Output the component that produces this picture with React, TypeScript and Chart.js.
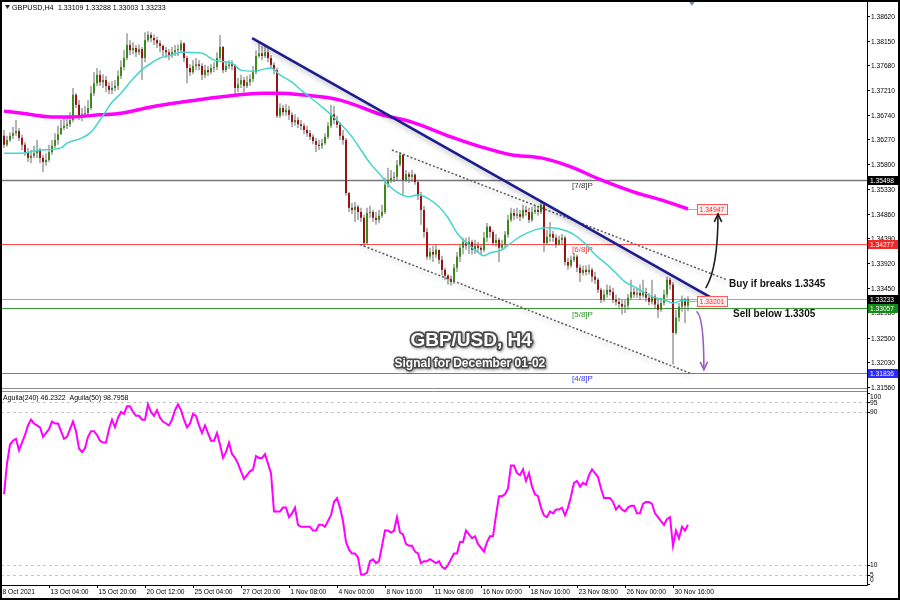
import React, { useEffect, useRef } from "react";
import { Chart, registerables } from "chart.js";

Chart.register(...registerables);

// ---------------- DATA (GBPUSD H4, bar index 0..228) ----------------
const opens = [
  1.3634,1.3617,1.3626,1.3634,1.3639,1.3643,1.3630,1.3617,1.3603,1.3592,1.3596,1.3601,1.3607,1.3592,1.3584,1.3588,1.3603,1.3615,1.3626,1.3637,
  1.3649,1.3653,1.3656,1.3664,1.3712,1.3693,1.3670,1.3675,1.3677,1.3687,1.3715,1.3734,1.3750,1.3736,1.3740,1.3729,1.3721,1.3725,1.3729,1.3748,
  1.3765,1.3782,1.3807,1.3797,1.3801,1.3793,1.3799,1.3782,1.3816,1.3826,1.3820,1.3816,1.3810,1.3805,1.3797,1.3793,1.3788,1.3793,1.3797,1.3797,
  1.3810,1.3782,1.3763,1.3755,1.3767,1.3770,1.3767,1.3750,1.3759,1.3755,1.3763,1.3765,1.3782,1.3803,1.3759,1.3767,1.3770,1.3767,1.3725,1.3732,
  1.3740,1.3729,1.3736,1.3742,1.3755,1.3786,1.3791,1.3786,1.3793,1.3782,1.3769,1.3759,1.3672,1.3687,1.3679,1.3683,1.3674,1.3660,1.3664,1.3656,
  1.3653,1.3645,1.3639,1.3632,1.3624,1.3617,1.3615,1.3620,1.3632,1.3653,1.3675,1.3664,1.3655,1.3634,1.3626,1.3525,1.3497,1.3493,1.3499,1.3489,
  1.3478,1.3430,1.3487,1.3489,1.3478,1.3474,1.3482,1.3489,1.3541,1.3550,1.3554,1.3556,1.3579,1.3598,1.3550,1.3561,1.3556,1.3560,1.3546,1.3520,
  1.3493,1.3451,1.3404,1.3413,1.3408,1.3417,1.3398,1.3379,1.3368,1.3362,1.3356,1.3383,1.3404,1.3421,1.3432,1.3425,1.3432,1.3417,1.3425,1.3421,
  1.3417,1.3440,1.3461,1.3451,1.3430,1.3436,1.3421,1.3427,1.3446,1.3474,1.3487,1.3482,1.3485,1.3480,1.3493,1.3489,1.3474,1.3489,1.3493,1.3489,
  1.3503,1.3430,1.3442,1.3447,1.3440,1.3427,1.3436,1.3440,1.3394,1.3387,1.3398,1.3404,1.3383,1.3373,1.3379,1.3375,1.3379,1.3366,1.3360,1.3341,
  1.3322,1.3332,1.3341,1.3337,1.3322,1.3318,1.3314,1.3309,1.3311,1.3326,1.3337,1.3332,1.3335,1.3330,1.3337,1.3326,1.3318,1.3328,1.3313,1.3303,
  1.3316,1.3332,1.3360,1.3351,1.3259,1.3288,1.3309,1.3322,1.33109,
];
const highs = [
  1.3645,1.3634,1.3641,1.3651,1.3664,1.3649,1.3636,1.3622,1.3611,1.3607,1.3615,1.3626,1.3611,1.3598,1.3601,1.3617,1.3626,1.3639,1.3653,1.3664,
  1.3668,1.3672,1.3679,1.3725,1.3715,1.3702,1.3687,1.3691,1.3702,1.3729,1.3755,1.3763,1.3759,1.3751,1.3748,1.3736,1.3738,1.3740,1.3759,1.3778,
  1.3797,1.3829,1.3816,1.3812,1.3807,1.3808,1.3803,1.3831,1.3833,1.3831,1.3827,1.3822,1.3816,1.3808,1.3803,1.3799,1.3803,1.3807,1.3808,1.3816,
  1.3812,1.3786,1.3770,1.3778,1.3782,1.3778,1.3772,1.3769,1.3767,1.3770,1.3774,1.3793,1.3826,1.3805,1.3774,1.3778,1.3778,1.3770,1.3744,1.3750,
  1.3746,1.3748,1.3751,1.3767,1.3797,1.3812,1.3805,1.3808,1.3801,1.3788,1.3774,1.3763,1.3696,1.3693,1.3694,1.3691,1.3679,1.3675,1.3670,1.3664,
  1.3658,1.3653,1.3645,1.3637,1.3630,1.3626,1.3628,1.3639,1.3660,1.3693,1.3691,1.3672,1.3660,1.3645,1.3630,1.3527,1.3506,1.3508,1.3503,1.3497,
  1.3484,1.3497,1.3501,1.3493,1.3489,1.3493,1.3503,1.3554,1.3573,1.3569,1.3565,1.3588,1.3603,1.3598,1.3569,1.3565,1.3569,1.3563,1.3550,1.3527,
  1.3501,1.3459,1.3421,1.3425,1.3427,1.3417,1.3406,1.3383,1.3371,1.3368,1.3390,1.3413,1.3428,1.3440,1.3440,1.3442,1.3436,1.3436,1.3432,1.3427,
  1.3451,1.3468,1.3463,1.3455,1.3447,1.3440,1.3436,1.3453,1.3484,1.3497,1.3495,1.3497,1.3493,1.3503,1.3501,1.3497,1.3499,1.3503,1.3501,1.3512,
  1.3504,1.3455,1.3470,1.3453,1.3446,1.3444,1.3447,1.3444,1.3402,1.3406,1.3411,1.3408,1.3389,1.3387,1.3387,1.3389,1.3383,1.3375,1.3364,1.3345,
  1.3341,1.3351,1.3349,1.3345,1.3332,1.3326,1.3322,1.3322,1.3333,1.3360,1.3345,1.3345,1.3351,1.3360,1.3345,1.3335,1.3360,1.3333,1.3322,1.3326,
  1.3341,1.3366,1.3364,1.3356,1.3303,1.3316,1.3330,1.3326,1.33288,
];
const lows = [
  1.3611,1.3613,1.3622,1.3628,1.3634,1.3624,1.3607,1.3596,1.3584,1.3582,1.3592,1.3592,1.3582,1.3565,1.3577,1.3584,1.3598,1.3611,1.3617,1.3636,
  1.3645,1.3647,1.3651,1.3660,1.3687,1.3664,1.3662,1.3668,1.3672,1.3683,1.3710,1.3729,1.3729,1.3725,1.3717,1.3713,1.3713,1.3719,1.3721,1.3742,
  1.3759,1.3778,1.3788,1.3789,1.3784,1.3788,1.3740,1.3774,1.3812,1.3812,1.3807,1.3801,1.3793,1.3786,1.3782,1.3778,1.3782,1.3786,1.3786,1.3793,
  1.3774,1.3734,1.3748,1.3751,1.3759,1.3759,1.3740,1.3744,1.3748,1.3751,1.3755,1.3759,1.3778,1.3753,1.3755,1.3761,1.3759,1.3708,1.3717,1.3725,
  1.3717,1.3725,1.3729,1.3736,1.3751,1.3782,1.3778,1.3782,1.3774,1.3763,1.3751,1.3668,1.3668,1.3672,1.3672,1.3664,1.3651,1.3653,1.3649,1.3645,
  1.3637,1.3632,1.3626,1.3618,1.3603,1.3607,1.3609,1.3617,1.3628,1.3649,1.3656,1.3649,1.3626,1.3617,1.3520,1.3489,1.3485,1.3470,1.3474,1.3470,
  1.3423,1.3427,1.3478,1.3470,1.3465,1.3468,1.3478,1.3485,1.3535,1.3544,1.3546,1.3550,1.3575,1.3522,1.3546,1.3544,1.3546,1.3541,1.3512,1.3465,
  1.3440,1.3398,1.3398,1.3394,1.3402,1.3390,1.3368,1.3360,1.3351,1.3349,1.3352,1.3375,1.3394,1.3408,1.3417,1.3409,1.3408,1.3409,1.3411,1.3408,
  1.3413,1.3432,1.3440,1.3425,1.3423,1.3394,1.3417,1.3421,1.3440,1.3470,1.3474,1.3476,1.3472,1.3476,1.3482,1.3468,1.3470,1.3485,1.3482,1.3485,
  1.3413,1.3427,1.3432,1.3432,1.3421,1.3425,1.3428,1.3387,1.3379,1.3383,1.3394,1.3375,1.3356,1.3368,1.3368,1.3370,1.3356,1.3352,1.3335,1.3316,
  1.3318,1.3326,1.3330,1.3316,1.3311,1.3307,1.3294,1.3297,1.3303,1.3322,1.3326,1.3326,1.3322,1.3326,1.3318,1.3311,1.3313,1.3305,1.3288,1.3299,
  1.3311,1.3326,1.3341,1.3199,1.3256,1.3280,1.3299,1.3278,1.33003,
];
const closes = [
  1.3617,1.3626,1.3634,1.3639,1.3643,1.3630,1.3617,1.3603,1.3592,1.3596,1.3601,1.3607,1.3592,1.3584,1.3588,1.3603,1.3615,1.3626,1.3637,1.3649,
  1.3653,1.3656,1.3664,1.3712,1.3693,1.3670,1.3675,1.3677,1.3687,1.3715,1.3734,1.3750,1.3736,1.3740,1.3729,1.3721,1.3725,1.3729,1.3748,1.3765,
  1.3782,1.3807,1.3797,1.3801,1.3793,1.3799,1.3782,1.3816,1.3826,1.3820,1.3816,1.3810,1.3805,1.3797,1.3793,1.3788,1.3793,1.3797,1.3797,1.3810,
  1.3782,1.3763,1.3755,1.3767,1.3770,1.3767,1.3750,1.3759,1.3755,1.3763,1.3765,1.3782,1.3803,1.3759,1.3767,1.3770,1.3767,1.3725,1.3732,1.3740,
  1.3729,1.3736,1.3742,1.3755,1.3786,1.3791,1.3786,1.3793,1.3782,1.3769,1.3759,1.3672,1.3687,1.3679,1.3683,1.3674,1.3660,1.3664,1.3656,1.3653,
  1.3645,1.3639,1.3632,1.3624,1.3617,1.3615,1.3620,1.3632,1.3653,1.3675,1.3664,1.3655,1.3634,1.3626,1.3525,1.3497,1.3493,1.3499,1.3489,1.3478,
  1.3430,1.3487,1.3489,1.3478,1.3474,1.3482,1.3489,1.3541,1.3550,1.3554,1.3556,1.3579,1.3598,1.3550,1.3561,1.3556,1.3560,1.3546,1.3520,1.3493,
  1.3451,1.3404,1.3413,1.3408,1.3417,1.3398,1.3379,1.3368,1.3362,1.3356,1.3383,1.3404,1.3421,1.3432,1.3425,1.3432,1.3417,1.3425,1.3421,1.3417,
  1.3440,1.3461,1.3451,1.3430,1.3436,1.3421,1.3427,1.3446,1.3474,1.3487,1.3482,1.3485,1.3480,1.3493,1.3489,1.3474,1.3489,1.3493,1.3489,1.3503,
  1.3430,1.3442,1.3447,1.3440,1.3427,1.3436,1.3440,1.3394,1.3387,1.3398,1.3404,1.3383,1.3373,1.3379,1.3375,1.3379,1.3366,1.3360,1.3341,1.3322,
  1.3332,1.3341,1.3337,1.3322,1.3318,1.3314,1.3309,1.3311,1.3326,1.3337,1.3332,1.3335,1.3330,1.3337,1.3326,1.3318,1.3328,1.3313,1.3303,1.3316,
  1.3332,1.3360,1.3351,1.3259,1.3288,1.3309,1.3322,1.33109,1.33233,
];

// Fast moving average (turquoise), read at selected bars
const fastMaIdx = [0,6,12,19,21,26,29,32,36,39,42,46,49,52,56,59,66,70,76,79,83,89,92,96,99,106,112,116,119,122,126,128,131,135,138,141,145,148,151,153,157,160,162,166,169,172,177,181,185,190,194,197,201,204,207,210,213,216,220,223,226,228];
const fastMaVal = [1.3601,1.3601,1.3607,1.3611,1.3620,1.3630,1.3641,1.3664,1.3698,1.3715,1.3736,1.3760,1.3772,1.3782,1.3788,1.3793,1.3791,1.3778,1.3772,1.3759,1.3757,1.3763,1.3750,1.3736,1.3721,1.3689,1.3658,1.3632,1.3607,1.3582,1.3556,1.3541,1.3527,1.3518,1.3522,1.3516,1.3499,1.3478,1.3449,1.3436,1.3417,1.3406,1.3411,1.3417,1.3430,1.3442,1.3455,1.3459,1.3457,1.3446,1.3427,1.3408,1.3389,1.3373,1.3356,1.3347,1.3337,1.3328,1.3322,1.3316,1.3320,1.33201];
// Slow moving average (magenta)
const slowMaIdx = [0,6,16,22,32,39,49,59,72,86,92,99,112,126,136,149,159,169,179,189,199,210,219,228];
const slowMaVal = [1.3681,1.3677,1.3670,1.3670,1.3674,1.3677,1.3689,1.3698,1.3708,1.3715,1.3715,1.3712,1.3702,1.3674,1.3660,1.3632,1.3613,1.3598,1.3592,1.3575,1.3550,1.3527,1.3512,1.34947];

// Aguila(50) oscillator values per bar
const aguila = [
  47,63,73,75,76,70,74,78,83,86,84,83,82,77,79,81,85,84,84,80,
  76,77,81,85,80,71,69,71,77,80,80,78,75,74,74,81,86,82,87,90,
  89,93,93,90,88,88,86,86,94,90,88,91,87,85,84,83,86,91,94,91,
  86,82,84,89,88,83,79,83,79,75,75,79,73,66,69,74,68,66,63,59,
  55,57,59,60,67,66,66,68,63,58,38,38,38,40,40,35,37,40,31,30,
  30,30,30,28,28,31,31,30,33,36,43,45,40,33,22,18,16,16,14,5,
  5,6,12,13,11,12,20,28,28,27,28,35,27,26,21,20,20,17,16,11,
  12,12,13,12,11,12,9,8,10,13,16,16,22,22,28,26,24,25,21,19,
  17,22,25,25,36,46,46,47,50,62,62,58,57,60,54,58,51,47,46,40,
  36,35,38,37,39,39,40,36,40,46,53,54,51,53,52,57,60,58,56,50,
  45,45,45,43,39,41,39,38,40,41,41,37,37,42,43,43,42,37,35,33,
  31,34,35,20,28,24,30,28,31,
];

// Trend line and channel (bar index, price)
const trendX = [82.7, 236.3];
const trendY = [1.3820, 1.3324];
const chanUpX = [129.3, 241];
const chanUpY = [1.3607, 1.3360];
const chanLoX = [118.7, 229.3];
const chanLoY = [1.3427, 1.3181];

// Horizontal levels
const levelValues = [1.35498, 1.34277, 1.33233, 1.33057, 1.31836];
const murreyLabels = ["[7/8]P", "[6/8]P", "[5/8]P", "[4/8]P"];
const murreyValues = [1.35498, 1.34277, 1.33057, 1.31836];

// Axes
const priceTicks = [1.38620,1.38150,1.37680,1.37210,1.36740,1.36270,1.35800,1.35330,1.34860,1.34390,1.33920,1.33450,1.32980,1.32500,1.32030,1.31560];
const timeTickIdx = [-1,15,31,47,63,79,95,111,127,143,159,175,191,207,223];
const timeLabels = ["8 Oct 2021","13 Oct 04:00","15 Oct 20:00","20 Oct 12:00","25 Oct 04:00","27 Oct 20:00","1 Nov 08:00","4 Nov 00:00","8 Nov 16:00","11 Nov 08:00","16 Nov 00:00","18 Nov 16:00","23 Nov 08:00","26 Nov 00:00","30 Nov 16:00"];
const aguilaTicks = [100, 95, 90, 10, 5, 0];
const aguilaLevels = [95, 90, 10, 5];

// Annotation texts and anchors (bar index, price)
const symbolText = "GBPUSD,H4";
const indicatorText = "Aguila(240) 46.2322  Aguila(50) 98.7958";
const titleText = "GBP/USD, H4";
const subtitleText = "Signal for December 01-02";
const buyText = "Buy if breaks 1.3345";
const sellText = "Sell below 1.3305";
const titleAt = [155.7, 1.3244];
const subtitleAt = [155.3, 1.3200];
const buyAt = [241.7, 1.3351];
const sellAt = [243, 1.3294];
const buyArrow = [[234, 1.3345], [238, 1.3383], [238, 1.3485]];
const sellArrow = [[231, 1.3299], [233.3, 1.3288], [233.3, 1.3189]];
const murreyLabelIdx = 196.3;
const maBoxIdx = 231;
const shiftMarkIdx = 229.3;

// ---------------- STYLE ----------------
const SANS = "'Liberation Sans', Arial, sans-serif";
const UP = "#3d8a1c";
const DOWN = "#981414";
const WICK = "#6a6a6a";
const levelLineColors = ["#787878", "#ff4a4a", "#9aa6ba", "#3a9a3a", "#6c6cff"];
const levelBoxColors = ["#000000", "#f02828", "#000000", "#168a16", "#2a2aff"];
const murreyColors = ["#333333", "#ff3030", "#2a962a", "#3030ff"];
const X_MIN = -1;
const X_MAX = 287.67;

function drawText(ctx: any, s: string, x: number, y: number, o: any) {
  ctx.save();
  ctx.font = o.font;
  ctx.fillStyle = o.color || "#000";
  ctx.textAlign = o.align || "left";
  ctx.textBaseline = o.baseline || "middle";
  ctx.translate(x, y);
  ctx.scale(o.sx || 1, 1);
  ctx.fillText(s, 0, 0);
  ctx.restore();
}

function drawArrow(ctx: any, pts: number[][], xs: any, ys: any, color: string) {
  const p = pts.map((q) => [xs.getPixelForValue(q[0]), ys.getPixelForValue(q[1])]);
  ctx.save();
  ctx.strokeStyle = color;
  ctx.lineWidth = 1.6;
  ctx.lineCap = "round";
  ctx.beginPath();
  ctx.moveTo(p[0][0], p[0][1]);
  ctx.quadraticCurveTo(p[1][0], p[1][1], p[2][0], p[2][1]);
  ctx.stroke();
  const ang = Math.atan2(p[2][1] - p[1][1], p[2][0] - p[1][0]);
  const L = 8;
  ctx.beginPath();
  ctx.moveTo(p[2][0] - L * Math.cos(ang - 0.45), p[2][1] - L * Math.sin(ang - 0.45));
  ctx.lineTo(p[2][0], p[2][1]);
  ctx.lineTo(p[2][0] - L * Math.cos(ang + 0.45), p[2][1] - L * Math.sin(ang + 0.45));
  ctx.stroke();
  ctx.restore();
}

function outlinedText(ctx: any, s: string, x: number, y: number, size: number, lw: number) {
  ctx.save();
  ctx.font = `bold ${size}px ${SANS}`;
  ctx.textAlign = "center";
  ctx.textBaseline = "middle";
  ctx.lineJoin = "round";
  ctx.shadowColor = "rgba(0,0,0,0.45)";
  ctx.shadowBlur = 3;
  ctx.shadowOffsetX = 1;
  ctx.shadowOffsetY = 1;
  ctx.strokeStyle = "#4a4a4a";
  ctx.lineWidth = lw;
  ctx.strokeText(s, x, y);
  ctx.shadowColor = "transparent";
  ctx.fillStyle = "#ffffff";
  ctx.fillText(s, x, y);
  ctx.restore();
}

const mainPlugin = {
  id: "mainDecor",
  beforeDatasetsDraw(chart: any) {
    const { ctx, chartArea: a } = chart;
    const xs = chart.scales.x, ys = chart.scales.y;
    ctx.save();
    levelValues.forEach((v, k) => {
      const y = Math.round(ys.getPixelForValue(v)) + 0.5;
      ctx.strokeStyle = levelLineColors[k];
      ctx.lineWidth = k === 0 ? 1.3 : 1.1;
      ctx.beginPath();
      ctx.moveTo(a.left, y);
      ctx.lineTo(a.right, y);
      ctx.stroke();
    });
    murreyValues.forEach((v, k) => {
      drawText(ctx, murreyLabels[k], xs.getPixelForValue(murreyLabelIdx), ys.getPixelForValue(v) + 2, {
        font: `8px ${SANS}`, color: murreyColors[k], align: "right", baseline: "top",
      });
    });
    ctx.restore();
  },
  beforeDatasetDraw(chart: any, args: any) {
    const ds = chart.data.datasets[args.index];
    if (ds.shadow) {
      const ctx = chart.ctx;
      ctx.save();
      ctx.shadowColor = "rgba(0,0,0,0.28)";
      ctx.shadowBlur = 5;
      ctx.shadowOffsetX = 1;
      ctx.shadowOffsetY = 3;
    }
  },
  afterDatasetDraw(chart: any, args: any) {
    const ds = chart.data.datasets[args.index];
    if (ds.shadow) chart.ctx.restore();
  },
  afterDatasetsDraw(chart: any) {
    const { ctx } = chart;
    const xs = chart.scales.x, ys = chart.scales.y;
    // MA value boxes
    const maEnds = [slowMaVal[slowMaVal.length - 1], fastMaVal[fastMaVal.length - 1]];
    const maEndIdx = [slowMaIdx[slowMaIdx.length - 1], fastMaIdx[fastMaIdx.length - 1]];
    maEnds.forEach((v, k) => {
      const y = ys.getPixelForValue(v);
      const x0 = xs.getPixelForValue(maEndIdx[k]);
      const xb = xs.getPixelForValue(maBoxIdx);
      ctx.save();
      ctx.strokeStyle = "#ff8a8a";
      ctx.lineWidth = 1;
      ctx.beginPath();
      ctx.moveTo(x0, Math.round(y) + 0.5);
      ctx.lineTo(xb, Math.round(y) + 0.5);
      ctx.stroke();
      ctx.fillStyle = "#ffecec";
      ctx.fillRect(xb, Math.round(y) - 5, 30, 11);
      ctx.strokeStyle = "#ff5a5a";
      ctx.strokeRect(xb + 0.5, Math.round(y) - 4.5, 30, 10);
      ctx.restore();
      drawText(ctx, v.toFixed(5), xb + 2.5, Math.round(y) + 0.5, { font: `8px ${SANS}`, color: "#ff2a2a", sx: 0.86 });
    });
    // arrows
    drawArrow(ctx, buyArrow, xs, ys, "#1e1e1e");
    drawArrow(ctx, sellArrow, xs, ys, "#9a5cc8");
    // signal texts
    drawText(ctx, buyText, xs.getPixelForValue(buyAt[0]), ys.getPixelForValue(buyAt[1]), { font: `bold 10px ${SANS}`, color: "#111" });
    drawText(ctx, sellText, xs.getPixelForValue(sellAt[0]), ys.getPixelForValue(sellAt[1]), { font: `bold 10px ${SANS}`, color: "#111" });
    // title
    outlinedText(ctx, titleText, xs.getPixelForValue(titleAt[0]), ys.getPixelForValue(titleAt[1]), 19, 3.5);
    outlinedText(ctx, subtitleText, xs.getPixelForValue(subtitleAt[0]), ys.getPixelForValue(subtitleAt[1]), 12, 3);
  },
  afterDraw(chart: any) {
    const { ctx, chartArea: a } = chart;
    const xs = chart.scales.x, ys = chart.scales.y;
    ctx.save();
    // bottom border of the price panel
    ctx.strokeStyle = "#8a8a8a";
    ctx.lineWidth = 1;
    ctx.beginPath();
    ctx.moveTo(0, a.bottom + 0.5);
    ctx.lineTo(a.right, a.bottom + 0.5);
    ctx.stroke();
    // price axis line
    ctx.strokeStyle = "#000";
    ctx.beginPath();
    ctx.moveTo(a.right + 0.5, 0);
    ctx.lineTo(a.right + 0.5, a.bottom + 2);
    ctx.stroke();
    priceTicks.forEach((v) => {
      const y = Math.round(ys.getPixelForValue(v)) + 0.5;
      ctx.beginPath();
      ctx.moveTo(a.right, y);
      ctx.lineTo(a.right + 3, y);
      ctx.stroke();
      drawText(ctx, v.toFixed(5), a.right + 4, y, { font: `8px ${SANS}`, color: "#000", sx: 0.83 });
    });
    // highlighted level labels
    levelValues.forEach((v, k) => {
      const y = Math.round(ys.getPixelForValue(v));
      ctx.fillStyle = levelBoxColors[k];
      ctx.fillRect(a.right + 1, y - 4, 30, 9);
      drawText(ctx, v.toFixed(5), a.right + 3, y + 0.5, { font: `8px ${SANS}`, color: "#fff", sx: 0.83 });
    });
    // header
    ctx.fillStyle = "#222";
    ctx.beginPath();
    ctx.moveTo(5, 5);
    ctx.lineTo(10, 5);
    ctx.lineTo(7.5, 9);
    ctx.closePath();
    ctx.fill();
    const n = closes.length - 1;
    drawText(ctx, symbolText, 12, 8, { font: `8px ${SANS}`, color: "#000", sx: 0.9 });
    drawText(ctx, [opens[n], highs[n], lows[n], closes[n]].map((v) => v.toFixed(5)).join(" "), 58, 8, {
      font: `8px ${SANS}`, color: "#000", sx: 0.88,
    });
    // chart shift marker
    const sx = xs.getPixelForValue(shiftMarkIdx);
    ctx.fillStyle = "#8090a0";
    ctx.beginPath();
    ctx.moveTo(sx - 3.5, 1);
    ctx.lineTo(sx + 3.5, 1);
    ctx.lineTo(sx, 6);
    ctx.closePath();
    ctx.fill();
    ctx.restore();
  },
};

const subPlugin = {
  id: "subDecor",
  beforeDatasetsDraw(chart: any) {
    const { ctx, chartArea: a } = chart;
    const ys = chart.scales.y;
    ctx.save();
    ctx.strokeStyle = "#c4c4c4";
    ctx.lineWidth = 1;
    ctx.setLineDash([3, 3]);
    aguilaLevels.forEach((v) => {
      const y = Math.round(ys.getPixelForValue(v)) + 0.5;
      ctx.beginPath();
      ctx.moveTo(a.left, y);
      ctx.lineTo(a.right, y);
      ctx.stroke();
    });
    ctx.restore();
  },
  afterDraw(chart: any) {
    const { ctx, chartArea: a } = chart;
    const xs = chart.scales.x, ys = chart.scales.y;
    ctx.save();
    ctx.strokeStyle = "#8a8a8a";
    ctx.lineWidth = 1;
    ctx.beginPath();
    ctx.moveTo(0, 1.5);
    ctx.lineTo(a.right, 1.5);
    ctx.stroke();
    ctx.strokeStyle = "#000";
    ctx.beginPath();
    ctx.moveTo(a.right + 0.5, 0);
    ctx.lineTo(a.right + 0.5, a.bottom + 0.5);
    ctx.lineTo(0, a.bottom + 0.5);
    ctx.stroke();
    aguilaTicks.forEach((v) => {
      const py = ys.getPixelForValue(v);
      const y = Math.min(Math.max(py, a.top + 5), a.bottom - 5);
      ctx.beginPath();
      ctx.moveTo(a.right, Math.round(py) + 0.5);
      ctx.lineTo(a.right + 3, Math.round(py) + 0.5);
      ctx.stroke();
      drawText(ctx, String(v), a.right + 3, y, { font: `8px ${SANS}`, color: "#000", sx: 0.83 });
    });
    timeTickIdx.forEach((t, k) => {
      const x = Math.round(xs.getPixelForValue(t)) + 0.5;
      ctx.beginPath();
      ctx.moveTo(x, a.bottom);
      ctx.lineTo(x, a.bottom + 3);
      ctx.stroke();
      drawText(ctx, timeLabels[k], x + 1, a.bottom + 7, { font: `8px ${SANS}`, color: "#000", sx: 0.83 });
    });
    drawText(ctx, indicatorText, 3, 8, { font: `8px ${SANS}`, color: "#000", sx: 0.87 });
    ctx.restore();
  },
};

function mainConfig(): any {
  const bodyData = closes.map((c, i) => ({ x: i, y: [opens[i], c] }));
  const wickData = closes.map((c, i) => ({ x: i, y: [lows[i], highs[i]] }));
  const bodyColors = closes.map((c, i) => (c >= opens[i] ? UP : DOWN));
  return {
    type: "bar",
    data: {
      datasets: [
        { type: "bar", label: "wick", data: wickData, backgroundColor: WICK, barThickness: 1, grouped: false, order: 10, inflateAmount: 0, borderWidth: 0 },
        { type: "bar", label: "body", data: bodyData, backgroundColor: bodyColors, barThickness: 2, grouped: false, order: 9, minBarLength: 1, inflateAmount: 0, borderWidth: 0 },
        { type: "line", label: "slowMA", data: slowMaIdx.map((x, k) => ({ x, y: slowMaVal[k] })), borderColor: "#ff00ff", borderWidth: 3.5, pointRadius: 0, cubicInterpolationMode: "monotone", order: 6 },
        { type: "line", label: "fastMA", data: fastMaIdx.map((x, k) => ({ x, y: fastMaVal[k] })), borderColor: "#44d6cc", borderWidth: 1.5, pointRadius: 0, cubicInterpolationMode: "monotone", order: 5 },
        { type: "line", label: "chanUp", data: chanUpX.map((x, k) => ({ x, y: chanUpY[k] })), borderColor: "#5a5a5a", borderWidth: 1.5, borderDash: [2, 2], pointRadius: 0, order: 4, shadow: true },
        { type: "line", label: "chanLo", data: chanLoX.map((x, k) => ({ x, y: chanLoY[k] })), borderColor: "#5a5a5a", borderWidth: 1.5, borderDash: [2, 2], pointRadius: 0, order: 4, shadow: true },
        { type: "line", label: "trend", data: trendX.map((x, k) => ({ x, y: trendY[k] })), borderColor: "#1c1c8e", borderWidth: 2.6, pointRadius: 0, order: 3, shadow: true },
      ],
    },
    options: {
      responsive: false,
      animation: false,
      events: [],
      layout: { padding: { left: 1, right: 33, top: 2, bottom: 2 } },
      scales: {
        x: { type: "linear", min: X_MIN, max: X_MAX, display: false, offset: false },
        y: { type: "linear", min: 1.315411, max: 1.388864, display: false },
      },
      plugins: { legend: { display: false }, tooltip: { enabled: false } },
    },
    plugins: [mainPlugin],
  };
}

function subConfig(): any {
  return {
    type: "line",
    data: {
      datasets: [
        { label: "Aguila(50)", data: aguila.map((v, i) => ({ x: i, y: v })), borderColor: "#ff00ff", borderWidth: 2, pointRadius: 0, tension: 0 },
      ],
    },
    options: {
      responsive: false,
      animation: false,
      events: [],
      layout: { padding: { left: 1, right: 33, top: 2, bottom: 15 } },
      scales: {
        x: { type: "linear", min: X_MIN, max: X_MAX, display: false },
        y: { type: "linear", min: -0.46, max: 100.46, display: false },
      },
      plugins: { legend: { display: false }, tooltip: { enabled: false } },
    },
    plugins: [subPlugin],
  };
}

export default function App() {
  const mainRef = useRef<HTMLCanvasElement>(null);
  const subRef = useRef<HTMLCanvasElement>(null);
  useEffect(() => {
    const main = new Chart(mainRef.current as any, mainConfig());
    const sub = new Chart(subRef.current as any, subConfig());
    return () => {
      main.destroy();
      sub.destroy();
    };
  }, []);
  return (
    <div style={{ position: "fixed", left: 0, top: 0, width: 900, height: 600, background: "#fff", overflow: "hidden" }}>
      <canvas ref={mainRef} width={900} height={390} style={{ position: "absolute", left: 0, top: 0, width: 900, height: 390 }} />
      <canvas ref={subRef} width={900} height={210} style={{ position: "absolute", left: 0, top: 390, width: 900, height: 210 }} />
      <div style={{ position: "absolute", left: 0, top: 0, width: 900, height: 600, border: "2px solid #000", boxSizing: "border-box", pointerEvents: "none" }} />
    </div>
  );
}
